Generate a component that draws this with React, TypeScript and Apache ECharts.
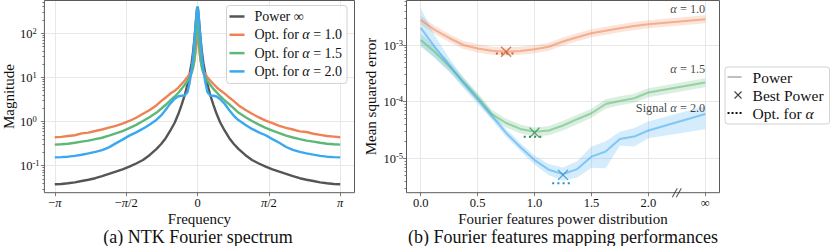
import { useEffect, useRef } from 'react';
import * as echarts from 'echarts';

const FONT = '"Liberation Serif", "Times New Roman", serif';

// ---------------- Panel (a): NTK Fourier spectrum ----------------
const FREQ = [
  -3.1416, -3.0, -2.85, -2.7, -2.55, -2.4, -2.25, -2.1, -1.95, -1.8, -1.65, -1.5, -1.35, -1.2, -1.05, -0.9,
  -0.8, -0.7, -0.6, -0.5, -0.42, -0.35, -0.28, -0.22, -0.17, -0.13, -0.1, -0.07, -0.045, -0.025, -0.01,
  0,
  0.01, 0.025, 0.045, 0.07, 0.1, 0.13, 0.17, 0.22, 0.28, 0.35, 0.42, 0.5, 0.6, 0.7, 0.8,
  0.9, 1.05, 1.2, 1.35, 1.5, 1.65, 1.8, 1.95, 2.1, 2.25, 2.4, 2.55, 2.7, 2.85, 3.0, 3.1416,
];
const POWER_INF = [
  0.038, 0.0385, 0.04, 0.042, 0.045, 0.048, 0.052, 0.058, 0.065, 0.073, 0.083, 0.095, 0.112, 0.135, 0.175, 0.24,
  0.31, 0.42, 0.62, 0.95, 1.5, 2.4, 4.0, 7.0, 12.5, 21, 36, 70, 140, 250, 350,
  395,
  350, 250, 140, 70, 36, 21, 12.5, 7.0, 4.0, 2.4, 1.5, 0.95, 0.62, 0.42, 0.31,
  0.24, 0.175, 0.135, 0.112, 0.095, 0.083, 0.073, 0.065, 0.058, 0.052, 0.048, 0.045, 0.042, 0.04, 0.0385, 0.038,
];
const OPT_A10 = [
  0.44, 0.45, 0.47, 0.49, 0.54, 0.56, 0.61, 0.66, 0.73, 0.8, 0.9, 1.03, 1.22, 1.5, 1.83, 2.35,
  2.9, 3.5, 4.3, 5.0, 5.9, 7.1, 8.5, 10.2, 12, 14, 17, 23, 36, 60, 95,
  115,
  95, 60, 36, 23, 17, 14, 12, 10, 8.5, 7.1, 6.0, 5.1, 4.3, 3.5, 2.9,
  2.35, 1.85, 1.5, 1.24, 1.05, 0.92, 0.8, 0.72, 0.66, 0.6, 0.58, 0.53, 0.5, 0.47, 0.455, 0.44,
];
const OPT_A15 = [
  0.3, 0.305, 0.315, 0.33, 0.35, 0.37, 0.4, 0.43, 0.48, 0.54, 0.61, 0.71, 0.84, 1.03, 1.27, 1.6,
  1.95, 2.4, 3.0, 3.7, 4.5, 5.5, 6.8, 8.3, 10, 12.5, 16, 25, 50, 110, 190,
  230,
  190, 110, 50, 25, 16, 12.5, 10, 8.3, 6.8, 5.5, 4.6, 3.75, 3.0, 2.45, 1.98,
  1.6, 1.27, 1.03, 0.85, 0.72, 0.62, 0.55, 0.48, 0.435, 0.4, 0.37, 0.35, 0.33, 0.315, 0.305, 0.3,
];
const OPT_A20 = [
  0.154, 0.156, 0.16, 0.167, 0.177, 0.19, 0.205, 0.225, 0.26, 0.32, 0.39, 0.48, 0.57, 0.69, 0.86, 1.1,
  1.38, 1.85, 2.55, 3.3, 3.75, 3.85, 3.9, 4.6, 8, 15, 28, 62, 135, 260, 370,
  400,
  370, 260, 135, 62, 28, 15, 8, 4.6, 3.9, 3.85, 3.7, 3.2, 2.5, 1.8, 1.35,
  1.08, 0.85, 0.68, 0.57, 0.49, 0.4, 0.33, 0.265, 0.228, 0.205, 0.19, 0.178, 0.167, 0.16, 0.156, 0.154,
];
const FREQ_TICKS = ['\u2212\u03c0', '\u2212\u03c0/2', '0', '\u03c0/2', '\u03c0'];
const SPECTRUM_NAMES = ['Power \u221e', 'Opt. for \u03b1 = 1.0', 'Opt. for \u03b1 = 1.5', 'Opt. for \u03b1 = 2.0'];
const MAG_EXP = [-1.612, 2.743];

// ---------------- Panel (b): Fourier features mapping performances ----------------
const POWER = [0, 0.125, 0.25, 0.375, 0.5, 0.625, 0.75, 0.875, 1.0, 1.125, 1.25, 1.375, 1.5, 1.625, 1.75, 1.875, 2.0, 2.5];
const POWER_TICKS = ['0.0', '0.5', '1.0', '1.5', '2.0', '\u221e'];

const MSE_A10 = [2.76e-3, 1.84e-3, 1.33e-3, 1.0e-3, 8.7e-4, 7.9e-4, 7.6e-4, 7.85e-4, 8.4e-4, 9.3e-4, 1.15e-3, 1.37e-3, 1.61e-3, 1.79e-3, 1.97e-3, 2.16e-3, 2.32e-3, 2.84e-3];
const MSE_A10_LO = [2.3e-3, 1.56e-3, 1.13e-3, 8.5e-4, 7.4e-4, 6.7e-4, 6.5e-4, 6.7e-4, 7.15e-4, 7.9e-4, 9.8e-4, 1.17e-3, 1.37e-3, 1.52e-3, 1.68e-3, 1.84e-3, 1.97e-3, 2.42e-3];
const MSE_A10_HI = [3.3e-3, 2.17e-3, 1.57e-3, 1.18e-3, 1.03e-3, 9.3e-4, 9.0e-4, 9.3e-4, 9.9e-4, 1.1e-3, 1.36e-3, 1.62e-3, 1.9e-3, 2.11e-3, 2.32e-3, 2.55e-3, 2.74e-3, 3.35e-3];

const MSE_A15 = [1.23e-3, 7.5e-4, 4.2e-4, 2.25e-4, 1.2e-4, 6.0e-5, 4.2e-5, 3.3e-5, 2.95e-5, 3.1e-5, 3.8e-5, 4.9e-5, 6.25e-5, 9.1e-5, 1.03e-4, 1.15e-4, 1.45e-4, 2.17e-4];
const MSE_A15_LO = [9.2e-4, 6.0e-4, 3.4e-4, 1.85e-4, 1.0e-4, 5.0e-5, 3.5e-5, 2.75e-5, 2.45e-5, 2.55e-5, 3.1e-5, 4.0e-5, 5.2e-5, 7.5e-5, 8.6e-5, 9.6e-5, 1.2e-4, 1.8e-4];
const MSE_A15_HI = [1.6e-3, 9.2e-4, 5.1e-4, 2.7e-4, 1.43e-4, 7.2e-5, 5.0e-5, 3.95e-5, 3.5e-5, 3.7e-5, 4.6e-5, 5.9e-5, 7.5e-5, 1.1e-4, 1.24e-4, 1.38e-4, 1.72e-4, 2.6e-4];

const MSE_A20 = [2.0e-3, 9.2e-4, 4.47e-4, 2.14e-4, 1.1e-4, 5.6e-5, 2.8e-5, 1.58e-5, 9.3e-6, 6.3e-6, 5.25e-6, 6.45e-6, 1.07e-5, 1.32e-5, 2.19e-5, 2.42e-5, 3.1e-5, 6.07e-5];
const MSE_A20_LO = [1.0e-3, 5.8e-4, 3.4e-4, 1.74e-4, 9.1e-5, 4.77e-5, 2.38e-5, 1.34e-5, 7.7e-6, 5.0e-6, 4.0e-6, 4.6e-6, 6.8e-6, 6.7e-6, 1.66e-5, 1.62e-5, 2.26e-5, 3.27e-5];
const MSE_A20_HI = [4.47e-3, 1.46e-3, 5.9e-4, 2.63e-4, 1.32e-4, 6.6e-5, 3.3e-5, 1.86e-5, 1.12e-5, 7.9e-6, 6.9e-6, 8.9e-6, 1.62e-5, 2.0e-5, 2.95e-5, 3.44e-5, 4.47e-5, 8.4e-5];

const BEST_X = [0.75, 1.0, 1.25];
const BEST_Y = [7.6e-4, 2.84e-5, 5.1e-6];
const OPT_X0 = [0.66, 0.905, 1.155];
const OPT_X1 = [0.84, 1.085, 1.33];
const OPT_Y = [7.1e-4, 2.4e-5, 3.64e-6];
const ANNOT_TEXT = ['\u03b1 = 1.0', '\u03b1 = 1.5', 'Signal \u03b1 = 2.0'];
const ANNOT_X = [2.5, 2.5, 2.5];
const ANNOT_Y = [4.26e-3, 3.72e-4, 7.8e-5];
const BREAK_X = 2.25;
const MSE_EXP = [-5.607, -2.2145];
const LEGEND_B = ['Power', 'Best Power', 'Opt. for \u03b1'];

// ---------------- styling ----------------
const C_GRAY = '#555555';
const C_ORANGE = '#EE8254';
const C_GREEN = '#5DB877';
const C_BLUE = '#3AA8F0';
const D_ORANGE = '#C8603A';
const D_GREEN = '#348A55';
const D_BLUE = '#2A8CD2';
const GRID_C = '#e8e8e8';
const SPINE = '#5a5a5a';
const TXT = '#111111';

const XMARK = 'path://M0,0L10,10M10,0L0,10';
const XMARK_LEGEND = 'path://M0,0M14,7M7,0L14,7M14,0L7,7';
const LINE_ICON_A = 'path://M0,0M15,10M0,3.75h15v2.5h-15z';
const LINE_ICON_B = 'path://M0,0M14,7M0,2.75h14v1.5h-14z';
const DOT_ICON_B = 'path://M0,0M14,7M0,2.5h2v2h-2zM4,2.5h2v2h-2zM8,2.5h2v2h-2zM12,2.5h2v2h-2z';
const BREAK_MARK = 'path://M0,9L5,0M4,9L9,0';

const italicize = (s: string) => s.replace(/([\u03b1\u03c0])/g, '{i|$1}');

const majorExps = (lo: number, hi: number) => {
  const out: number[] = [];
  for (let n = Math.ceil(lo); n <= Math.floor(hi); n++) out.push(n);
  return out;
};
const minorExps = (lo: number, hi: number) => {
  const out: number[] = [];
  for (let n = Math.floor(lo); n <= Math.ceil(hi); n++) {
    for (let k = 2; k <= 9; k++) {
      const v = n + Math.log10(k);
      if (v > lo && v < hi) out.push(v);
    }
  }
  return out;
};

const supFmt = (v: number) => {
  const e = Math.log10(v);
  const r = Math.round(e);
  if (Math.abs(e - r) > 1e-3) return '';
  return `{b|10}{s|${r}}`;
};
const SUP_RICH = {
  b: { fontFamily: FONT, fontSize: 12.5, color: TXT, lineHeight: 14, verticalAlign: 'bottom' },
  s: { fontFamily: FONT, fontSize: 8.5, color: TXT, lineHeight: 9, verticalAlign: 'top' },
};
const ITALIC_RICH = (size: number) => ({
  i: { fontFamily: FONT, fontSize: size, fontStyle: 'italic', color: TXT },
});

const GRID_TOP = 0.5;
const GRID_H = 192.2;
const A_LEFT = 40.5, A_W = 314;
const B_LEFT = 406.5, B_W = 313;
const A_DATA_LEFT = A_LEFT + (A_W * 0.05) / 1.1;
const A_DATA_W = A_W / 1.1;
const B_DATA_LEFT = B_LEFT + (B_W * 0.125) / 2.75;
const B_DATA_W = (B_W * 2.5) / 2.75;

function buildOption() {
  const tickAxis = (grid: number, exps: number[], values: number[], len: number) => ({
    gridIndex: grid,
    type: 'value',
    position: 'left',
    min: exps[0],
    max: exps[1],
    axisLine: { show: false },
    axisLabel: { show: false },
    splitLine: { show: false },
    axisTick: { show: true, inside: false, length: len, customValues: values, lineStyle: { color: SPINE, width: 0.8 } },
  });

  const logLabelAxis = (grid: number, exps: number[], name: string, align: string, margin: number) => ({
    gridIndex: grid,
    type: 'log',
    logBase: 10,
    position: 'left',
    min: Math.pow(10, exps[0]),
    max: Math.pow(10, exps[1]),
    axisLine: { show: false },
    axisTick: { show: false },
    splitLine: { show: true, showMinLine: false, showMaxLine: false, lineStyle: { color: GRID_C, width: 1 } },
    axisLabel: { formatter: supFmt, align, margin, rich: SUP_RICH },
    name,
    nameLocation: 'middle',
    nameGap: 28,
    nameTextStyle: { fontFamily: FONT, fontSize: 15, color: TXT },
  });

  const dataLogAxis = (grid: number, exps: number[]) => ({
    gridIndex: grid,
    type: 'log',
    logBase: 10,
    position: 'left',
    show: false,
    min: Math.pow(10, exps[0]),
    max: Math.pow(10, exps[1]),
  });

  const spectrumSeries = [POWER_INF, OPT_A10, OPT_A15, OPT_A20].map((ys, k) => ({
    type: 'line',
    name: SPECTRUM_NAMES[k],
    xAxisIndex: 1,
    yAxisIndex: 3,
    data: FREQ.map((x, i) => [x, ys[i]]),
    symbol: 'none',
    showSymbol: false,
    lineStyle: { color: [C_GRAY, C_ORANGE, C_GREEN, C_BLUE][k], width: 2.4 },
    itemStyle: { color: [C_GRAY, C_ORANGE, C_GREEN, C_BLUE][k] },
    z: 3 + k,
    silent: true,
  }));

  const bandDefs = [
    { key: 'a10', lo: MSE_A10_LO, hi: MSE_A10_HI, mean: MSE_A10, color: C_ORANGE },
    { key: 'a15', lo: MSE_A15_LO, hi: MSE_A15_HI, mean: MSE_A15, color: C_GREEN },
    { key: 'a20', lo: MSE_A20_LO, hi: MSE_A20_HI, mean: MSE_A20, color: C_BLUE },
  ];
  const bandSeries = bandDefs.map((b) => ({
    type: 'custom',
    name: b.key + '-band',
    xAxisIndex: 3,
    yAxisIndex: 7,
    silent: true,
    z: 2,
    data: POWER.map((x, i) => [x, b.lo[i], b.hi[i]]),
    encode: { x: 0, y: [1, 2] },
    renderItem: (params: any, api: any) => {
      if (params.dataIndexInside !== 0) return null;
      const n = params.dataInsideLength;
      const upper: number[][] = [];
      const lower: number[][] = [];
      for (let j = 0; j < n; j++) {
        upper.push(api.coord([api.value(0, j), api.value(2, j)]));
        lower.push(api.coord([api.value(0, j), api.value(1, j)]));
      }
      return {
        type: 'polygon',
        shape: { points: upper.concat(lower.reverse()) },
        style: { fill: b.color, opacity: 0.22 },
        silent: true,
      };
    },
  }));
  const meanSeries = bandDefs.map((b) => ({
    type: 'line', name: b.key + '-mean', xAxisIndex: 3, yAxisIndex: 7,
    data: POWER.map((x, i) => [x, b.mean[i]]), symbol: 'none',
    lineStyle: { color: b.color, width: 2, opacity: 0.55 }, silent: true, z: 3,
  }));
  const darkCols = [D_ORANGE, D_GREEN, D_BLUE];
  const optSeries = OPT_Y.map((y, k) => ({
    type: 'line', name: 'opt-' + k, xAxisIndex: 3, yAxisIndex: 7,
    data: [[OPT_X0[k], y], [OPT_X1[k], y]], symbol: 'none',
    lineStyle: { color: darkCols[k], width: 2, type: [2, 3.2] }, silent: true, z: 4,
  }));
  const bestSeries = {
    type: 'scatter', name: 'best-marks', xAxisIndex: 3, yAxisIndex: 7,
    symbol: XMARK, symbolSize: 10, silent: true, z: 5,
    data: BEST_X.map((x, k) => ({
      value: [x, BEST_Y[k]],
      itemStyle: { color: 'transparent', borderColor: darkCols[k], borderWidth: 1.4 },
    })),
  };
  const annotSeries = {
    type: 'scatter', name: 'annotations', xAxisIndex: 3, yAxisIndex: 7,
    symbolSize: 0, silent: true, clip: false, z: 6,
    data: ANNOT_X.map((x, k) => [x, ANNOT_Y[k]]),
    label: {
      show: true, position: 'left', distance: 0,
      fontFamily: FONT, fontSize: 12.3, color: TXT,
      formatter: (p: any) => italicize(ANNOT_TEXT[p.dataIndex]),
      rich: ITALIC_RICH(12.3),
    },
  };
  const breakSeries = {
    type: 'scatter', name: 'axis-break', xAxisIndex: 3, yAxisIndex: 7,
    symbol: BREAK_MARK, symbolSize: [9, 9], clip: false, silent: true, z: 10,
    data: [[BREAK_X, Math.pow(10, MSE_EXP[0])]],
    itemStyle: { color: 'transparent', borderColor: '#333', borderWidth: 1.1 },
  };
  const legendSeries = [
    { type: 'line', name: LEGEND_B[0], xAxisIndex: 3, yAxisIndex: 7, data: [], symbol: 'none', lineStyle: { color: '#aaaaaa', width: 1.5 }, itemStyle: { color: '#aaaaaa' } },
    { type: 'scatter', name: LEGEND_B[1], xAxisIndex: 3, yAxisIndex: 7, data: [], symbol: XMARK, itemStyle: { color: 'transparent', borderColor: '#111', borderWidth: 1.1 } },
    { type: 'line', name: LEGEND_B[2], xAxisIndex: 3, yAxisIndex: 7, data: [], symbol: 'none', lineStyle: { color: '#111', width: 2, type: [2, 3.2] }, itemStyle: { color: '#111' } },
  ];

  const specColors = [C_GRAY, C_ORANGE, C_GREEN, C_BLUE];

  return {
    animation: false,
    backgroundColor: '#ffffff',
    textStyle: { fontFamily: FONT, color: TXT },
    grid: [
      { left: A_LEFT, top: GRID_TOP, width: A_W, height: GRID_H, show: true, borderColor: SPINE, borderWidth: 1, backgroundColor: 'transparent', z: 5 },
      { left: A_DATA_LEFT, top: GRID_TOP, width: A_DATA_W, height: GRID_H },
      { left: B_LEFT, top: GRID_TOP, width: B_W, height: GRID_H, show: true, borderColor: SPINE, borderWidth: 1, backgroundColor: 'transparent', z: 5 },
      { left: B_DATA_LEFT, top: GRID_TOP, width: B_DATA_W, height: GRID_H },
    ],
    xAxis: [
      {
        gridIndex: 0, type: 'value', position: 'bottom', min: 0, max: 1,
        axisLine: { show: false }, axisTick: { show: false }, axisLabel: { show: false }, splitLine: { show: false },
        name: 'Frequency', nameLocation: 'middle', nameGap: 18.5,
        nameTextStyle: { fontFamily: FONT, fontSize: 15, color: TXT },
      },
      {
        gridIndex: 1, type: 'value', position: 'bottom', min: -Math.PI, max: Math.PI, interval: Math.PI / 2,
        axisLine: { show: false },
        axisTick: { show: true, inside: false, length: 3.5, lineStyle: { color: SPINE, width: 0.8 } },
        axisLabel: {
          margin: 4, fontFamily: FONT, fontSize: 12.5, color: TXT,
          formatter: (v: number) => italicize(FREQ_TICKS[Math.round(v / (Math.PI / 2)) + 2] || ''),
          rich: ITALIC_RICH(12.5),
        },
        splitLine: { show: true, lineStyle: { color: GRID_C, width: 1 } },
      },
      {
        gridIndex: 2, type: 'value', position: 'bottom', min: 0, max: 1,
        axisLine: { show: false }, axisTick: { show: false }, axisLabel: { show: false }, splitLine: { show: false },
        name: 'Fourier features power distribution', nameLocation: 'middle', nameGap: 18.5,
        nameTextStyle: { fontFamily: FONT, fontSize: 15, color: TXT },
      },
      {
        gridIndex: 3, type: 'value', position: 'bottom', min: 0, max: 2.5, interval: 0.5,
        axisLine: { show: false },
        axisTick: { show: true, inside: false, length: 3.5, lineStyle: { color: SPINE, width: 0.8 } },
        axisLabel: {
          margin: 4, fontFamily: FONT, fontSize: 12.5, color: TXT,
          formatter: (v: number) => POWER_TICKS[Math.round(v / 0.5)] || '',
        },
        splitLine: { show: true, lineStyle: { color: GRID_C, width: 1 } },
      },
    ],
    yAxis: [
      logLabelAxis(0, MAG_EXP, 'Magnitude', 'left', 24.5),
      tickAxis(0, MAG_EXP, majorExps(MAG_EXP[0], MAG_EXP[1]), 3.5),
      tickAxis(0, MAG_EXP, minorExps(MAG_EXP[0], MAG_EXP[1]), 2),
      dataLogAxis(1, MAG_EXP),
      logLabelAxis(2, MSE_EXP, 'Mean squared error', 'right', 3.5),
      tickAxis(2, MSE_EXP, majorExps(MSE_EXP[0], MSE_EXP[1]), 3.5),
      tickAxis(2, MSE_EXP, minorExps(MSE_EXP[0], MSE_EXP[1]), 2),
      dataLogAxis(3, MSE_EXP),
    ],
    legend: [
      {
        data: SPECTRUM_NAMES.map((n, k) => ({
          name: n, icon: LINE_ICON_A,
          itemStyle: { color: specColors[k], borderWidth: 0 },
        })),
        orient: 'vertical', left: 226.5, top: 5.5,
        itemWidth: 15, itemHeight: 10, itemGap: 2.3, padding: [3, 5, 4, 3],
        backgroundColor: 'rgba(255,255,255,0.85)', borderColor: '#d2d2d2', borderWidth: 1, borderRadius: 3,
        selectedMode: false, z: 20,
        formatter: (n: string) => italicize(n),
        textStyle: { fontFamily: FONT, fontSize: 14, color: TXT, lineHeight: 16, padding: [0, 0, 0, 5], rich: ITALIC_RICH(14) },
      },
      {
        data: [
          { name: LEGEND_B[0], icon: LINE_ICON_B, itemStyle: { color: '#aaaaaa', borderWidth: 0 } },
          { name: LEGEND_B[1], icon: XMARK_LEGEND, itemStyle: { color: 'transparent', borderColor: '#111', borderWidth: 1.1 } },
          { name: LEGEND_B[2], icon: DOT_ICON_B, itemStyle: { color: '#111', borderWidth: 0 } },
        ],
        orient: 'vertical', left: 725, top: 67,
        itemWidth: 14, itemHeight: 7, itemGap: 2, padding: [2, 6, 3, 2],
        backgroundColor: 'rgba(255,255,255,0.85)', borderColor: '#d2d2d2', borderWidth: 1, borderRadius: 3,
        selectedMode: false, z: 20,
        formatter: (n: string) => italicize(n),
        textStyle: { fontFamily: FONT, fontSize: 15.5, color: TXT, lineHeight: 16, padding: [0, 0, 0, 6], rich: ITALIC_RICH(15.5) },
      },
    ],
    graphic: [
      { type: 'text', x: 198, y: 237, silent: true, style: { text: '(a) NTK Fourier spectrum', fontFamily: FONT, fontSize: 18, fill: TXT, align: 'center', verticalAlign: 'middle' } },
      { type: 'text', x: 563, y: 237, silent: true, style: { text: '(b) Fourier features mapping performances', fontFamily: FONT, fontSize: 18, fill: TXT, align: 'center', verticalAlign: 'middle' } },
    ],
    series: [
      ...spectrumSeries,
      ...bandSeries,
      ...meanSeries,
      ...optSeries,
      bestSeries,
      annotSeries,
      breakSeries,
      ...legendSeries,
    ],
  };
}

export default function App() {
  const ref = useRef<HTMLDivElement | null>(null);
  useEffect(() => {
    document.body.style.margin = '0';
    if (!ref.current) return;
    const chart = echarts.init(ref.current, null, { renderer: 'svg' });
    chart.setOption(buildOption() as any);
    return () => chart.dispose();
  }, []);
  return <div ref={ref} style={{ width: 830, height: 246 }} />;
}
